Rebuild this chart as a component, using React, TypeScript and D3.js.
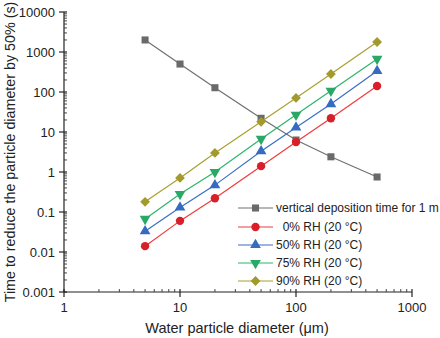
import React from 'react';
import * as d3 from 'd3';

const diameters = [5, 10, 20, 50, 100, 200, 500];
const depositionTime = [2000, 500, 128, 22, 6.3, 2.4, 0.75];
const rh0 = [0.014, 0.06, 0.22, 1.4, 5.6, 22, 141];
const rh50 = [0.033, 0.13, 0.47, 3.3, 13, 50, 335];
const rh75 = [0.067, 0.28, 1.0, 6.7, 27, 107, 670];
const rh90 = [0.18, 0.71, 3.0, 18, 71, 282, 1780];

const xTicks = [1, 10, 100, 1000];
const yTicks = [0.001, 0.01, 0.1, 1, 10, 100, 1000, 10000];

const series = [
  { name: 'vertical deposition time for 1 m', values: depositionTime, line: '#707070', fill: '#6a6a6a', shape: 'square' },
  { name: '\u00a0\u00a00% RH (20 °C)', values: rh0, line: '#f03c3c', fill: '#d81f2a', shape: 'circle' },
  { name: '50% RH (20 °C)', values: rh50, line: '#3a6fc4', fill: '#356cc0', shape: 'triangle' },
  { name: '75% RH (20 °C)', values: rh75, line: '#2db56c', fill: '#2aa866', shape: 'triangleDown' },
  { name: '90% RH (20 °C)', values: rh90, line: '#a9a032', fill: '#a39a2c', shape: 'diamond' },
];

// returns path + extra rotation for each marker shape
const symbolFor = (shape: string): [string, number] => {
  switch (shape) {
    case 'square': return [d3.symbol(d3.symbolSquare, 50)() || '', 0];
    case 'circle': return [d3.symbol(d3.symbolCircle, 55)() || '', 0];
    case 'triangle': return [d3.symbol(d3.symbolTriangle, 50)() || '', 0];
    case 'triangleDown': return [d3.symbol(d3.symbolTriangle, 50)() || '', 180];
    default: return [d3.symbol(d3.symbolSquare, 48)() || '', 45];
  }
};

export default function App() {
  const width = 440;
  const height = 338;
  const x = d3.scaleLog().domain([1, 1000]).range([64, 412]);
  const y = d3.scaleLog().domain([0.001, 10000]).range([292, 12]);
  const font = 'Liberation Sans, Arial, sans-serif';

  const line = d3.line<number>()
    .x((_, i) => x(diameters[i]))
    .y(d => y(d));

  const minorX: number[] = [];
  for (let dec = 1; dec < 1000; dec *= 10) {
    for (let k = 2; k <= 9; k++) minorX.push(dec * k);
  }
  const minorY: number[] = [];
  for (let dec = 0.001; dec < 9999; dec *= 10) {
    for (let k = 2; k <= 9; k++) minorY.push(dec * k);
  }

  const legendY = [208, 227, 245, 263, 281];

  return (
    <svg width={width} height={height} style={{ position: 'absolute', left: 0, top: 0 }} fontFamily={font}>
      <rect width={width} height={height} fill="#fff" />
      {/* axes */}
      <line x1={64} x2={64} y1={y(10000)} y2={y(0.001)} stroke="#222" strokeWidth={1.2} />
      <line x1={64} x2={x(1000)} y1={292} y2={292} stroke="#222" strokeWidth={1.2} />
      {yTicks.map(t => (
        <g key={'yt' + t}>
          <line x1={59} x2={67} y1={y(t)} y2={y(t)} stroke="#222" strokeWidth={1.2} />
          <text x={55} y={y(t)} dy="0.35em" textAnchor="end" fontSize={13} fill="#222">{t >= 10000 ? '10000' : String(t)}</text>
        </g>
      ))}
      {minorY.map((t, i) => (
        <line key={'ym' + i} x1={64} x2={67} y1={y(t)} y2={y(t)} stroke="#333" strokeWidth={0.9} />
      ))}
      {xTicks.map(t => (
        <g key={'xt' + t}>
          <line x1={x(t)} x2={x(t)} y1={289} y2={297} stroke="#222" strokeWidth={1.2} />
          <text x={x(t)} y={312} textAnchor="middle" fontSize={13} fill="#222">{t}</text>
        </g>
      ))}
      {minorX.map((t, i) => (
        <line key={'xm' + i} x1={x(t)} x2={x(t)} y1={289} y2={292} stroke="#333" strokeWidth={0.9} />
      ))}
      {/* titles */}
      <text x={237} y={333} textAnchor="middle" fontSize={14.5} fill="#222">Water particle diameter (μm)</text>
      <text transform={`translate(15, 152) rotate(-90)`} textAnchor="middle" fontSize={14.3} fill="#222">Time to reduce the particle diameter by 50% (s)</text>
      {/* series */}
      {series.map(s => {
        const [sym, rot] = symbolFor(s.shape);
        return (
          <g key={s.name}>
            <path d={line(s.values) || ''} fill="none" stroke={s.line} strokeWidth={1.2} />
            {s.values.map((v, i) => (
              <path key={i} d={sym}
                transform={`translate(${x(diameters[i])},${y(v)}) rotate(${rot})`}
                fill={s.fill} />
            ))}
          </g>
        );
      })}
      {/* legend */}
      {series.map((s, i) => {
        const [sym, rot] = symbolFor(s.shape);
        return (
          <g key={'lg' + i} transform={`translate(0,${legendY[i]})`}>
            <line x1={238} x2={273} y1={0} y2={0} stroke={s.line} strokeWidth={1.2} />
            <path d={sym} transform={`translate(255.5,0) rotate(${rot})`} fill={s.fill} />
            <text x={276} y={0} dy="0.35em" fontSize={12} fill="#222">{s.name}</text>
          </g>
        );
      })}
    </svg>
  );
}
